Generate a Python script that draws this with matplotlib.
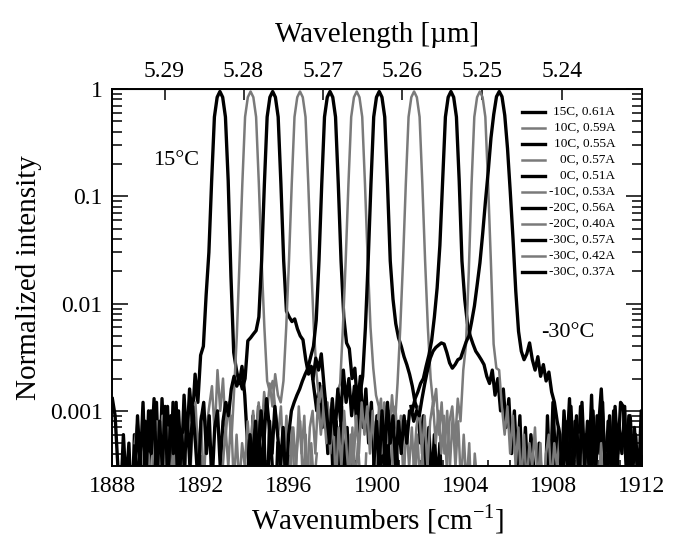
#!/usr/bin/env python3
# -*- coding: utf-8 -*-

import numpy as np
import matplotlib
matplotlib.use("Agg")
import matplotlib.pyplot as plt
from matplotlib.lines import Line2D
from matplotlib.ticker import FixedLocator, FuncFormatter, LogLocator, MultipleLocator, NullFormatter

plt.rcParams['font.family'] = ['Liberation Serif', 'DejaVu Serif']
plt.rcParams['mathtext.fontset'] = 'custom'
plt.rcParams['mathtext.rm'] = 'Liberation Serif'

# spectra sampled every 0.125 cm-1 from the given start wavenumber
STEP = 0.125

labels = ["15C, 0.61A", "10C, 0.59A", "10C, 0.55A", "0C, 0.57A", "0C, 0.51A",
          "-10C, 0.53A", "-20C, 0.56A", "-20C, 0.40A", "-30C, 0.57A",
          "-30C, 0.42A", "-30C, 0.37A"]
colors = ["black", "gray", "black", "gray", "black", "gray",
          "black", "gray", "black", "gray", "black"]
starts = [1887.995, 1889.01, 1889.01, 1893.0, 1894.11, 1896.07,
          1897.09, 1898.67, 1899.84, 1901.65, 1901.53]

int_15C_061 = [0.0013, 0.0009, 0.0003, 0.00015, 0.0006, 0.0002, 0.0005, 0.0001, 0.0006, 0.0002,
               0.0004, 0.0001, 0.0008, 0.0002, 0.0010, 0.0003, 0.0012, 0.0002, 0.0013, 0.0004,
               0.0011, 0.0002, 0.0012, 0.0002, 0.0010, 0.0003, 0.0014, 0.0005, 0.0016, 0.0008,
               0.0022, 0.0012, 0.0033, 0.0040, 0.012, 0.03, 0.14, 0.55, 0.84, 0.95,
               0.84, 0.55, 0.14, 0.018, 0.0035, 0.0024, 0.0018, 0.0026, 0.0014, 0.0005,
               0.0002, 0.0009, 0.0003, 0.0011, 0.0002, 0.0006, 0.0001, 0.0008, 0.0003, 0.0001,
               0.0005]
int_10C_059 = [0.0005, 0.0008, 0.0004, 0.0002, 0.0001, 0.0004, 0.0002, 0.0006, 0.0008, 0.0003,
               0.0009, 0.0002, 0.0007, 0.0002, 0.0005, 0.0001, 0.0004, 0.0002, 0.0006, 0.0002,
               0.0002, 0.0008, 0.0012, 0.0004, 0.0009, 0.0002, 0.0007, 0.0011, 0.0017, 0.0006,
               0.0024, 0.0010, 0.0020, 0.0006, 0.0012, 0.0005, 0.0015, 0.005, 0.025, 0.13,
               0.55, 0.84, 0.95, 0.84, 0.55, 0.13, 0.025, 0.006, 0.0019, 0.0015,
               0.0019, 0.0010, 0.0006, 0.0011, 0.0003, 0.0009, 0.0002, 0.0007, 0.0002, 0.0005,
               0.0008, 0.0002, 0.0006, 0.0001, 0.0005, 0.0002, 0.0004]
int_10C_055 = [0.0002, 0.0009, 0.0003, 0.0012, 0.0002, 0.0010, 0.0004, 0.0013, 0.0002, 0.0008,
               0.0003, 0.0011, 0.0002, 0.0009, 0.0004, 0.0012,
               0.0002, 0.0006, 0.0003, 0.0009, 0.0003, 0.0011, 0.0005, 0.0002, 0.0008, 0.0012,
               0.0004, 0.0009, 0.0002, 0.0007, 0.0010, 0.0003, 0.0008, 0.0012, 0.0009, 0.0016,
               0.0021, 0.0017, 0.0020, 0.0016, 0.0020, 0.0045, 0.0048, 0.0052, 0.0056, 0.0075,
               0.025, 0.13, 0.55, 0.84, 0.95, 0.84, 0.55, 0.13, 0.025, 0.0085,
               0.0075, 0.0068, 0.0072, 0.0058, 0.0050, 0.0046, 0.0030, 0.0022, 0.0026, 0.0016,
               0.0010, 0.0018, 0.0007, 0.0013, 0.0004, 0.0010, 0.0002, 0.0008, 0.0003, 0.0011,
               0.0002, 0.0007, 0.0002, 0.0005, 0.0002]
int_0C_057 = [0.0003, 0.0007, 0.0003, 0.0009, 0.0002, 0.0006, 0.0002, 0.0005, 0.0003, 0.0008,
              0.0004, 0.0010, 0.0005, 0.0012, 0.0006, 0.0015, 0.0009, 0.0018, 0.0011, 0.0022,
              0.0014, 0.0012, 0.0019, 0.006, 0.025, 0.13, 0.55, 0.84, 0.95, 0.84,
              0.55, 0.13, 0.025, 0.006, 0.0022, 0.0012, 0.0017, 0.0007, 0.0012, 0.0004,
              0.0009, 0.0002, 0.0007, 0.0003, 0.0010, 0.0004, 0.0002, 0.0007, 0.0002, 0.0005,
              0.0002, 0.0001, 0.0004]
int_0C_051 = [0.0002, 0.0006, 0.0003, 0.0008, 0.0003, 0.0010, 0.0005, 0.0013, 0.0007, 0.0004,
              0.0011, 0.0006, 0.0003, 0.0007, 0.0002, 0.0006, 0.0010, 0.0012, 0.0014, 0.0016,
              0.0019, 0.0022, 0.0025, 0.0032, 0.0040, 0.0070, 0.025, 0.13, 0.55, 0.84,
              0.95, 0.84, 0.55, 0.13, 0.025, 0.0075, 0.0043, 0.0038, 0.0020, 0.0025,
              0.0011, 0.0021, 0.0007, 0.0016, 0.0005, 0.0012, 0.0003, 0.0009, 0.0002, 0.0007,
              0.0002, 0.0006, 0.0002, 0.0001, 0.0005, 0.0002, 0.0001]
int_m10C_053 = [0.0003, 0.0007, 0.0003, 0.0011, 0.0004, 0.0009, 0.0002, 0.0007, 0.0010, 0.0004,
                0.0013, 0.0006, 0.0011, 0.0005, 0.0009, 0.0012, 0.0007, 0.0015, 0.0018, 0.006,
                0.025, 0.13, 0.55, 0.84, 0.95, 0.84, 0.55, 0.13, 0.025, 0.006,
                0.0025, 0.0014, 0.0011, 0.0004, 0.0012, 0.0005, 0.0010, 0.0003, 0.0011, 0.0005,
                0.0009, 0.0002, 0.0008, 0.0003, 0.0007, 0.0002, 0.0006, 0.0002, 0.0005, 0.0001,
                0.0004, 0.0002, 0.0001]
int_m20C_056 = [0.0020, 0.0031, 0.0024, 0.0034, 0.0017, 0.0009, 0.0005, 0.0013, 0.0006, 0.0016,
                0.0008, 0.0024, 0.0012, 0.0020, 0.0009, 0.0017, 0.0006, 0.0014, 0.0021, 0.006,
                0.025, 0.13, 0.55, 0.84, 0.95, 0.84, 0.55, 0.13, 0.025, 0.011,
                0.0065, 0.0048, 0.0040, 0.0032, 0.0027, 0.0022, 0.0017, 0.0012, 0.0010, 0.0005,
                0.0009, 0.0003, 0.0007, 0.0002, 0.0006, 0.0002, 0.0005, 0.0001, 0.0002]
int_m20C_040 = [0.0002, 0.0006, 0.0003, 0.0009, 0.0004, 0.0012, 0.0006, 0.0011, 0.0004, 0.0010,
                0.0003, 0.0009, 0.0013, 0.0005, 0.0011, 0.0006, 0.0014, 0.0007, 0.0018, 0.006,
                0.025, 0.13, 0.55, 0.84, 0.95, 0.84, 0.55, 0.13, 0.025, 0.006,
                0.0020, 0.0011, 0.0016, 0.0006, 0.0012, 0.0004, 0.0010, 0.0003, 0.0009, 0.0003,
                0.0008, 0.0002, 0.0006, 0.0002, 0.0005, 0.0001, 0.0004, 0.0002, 0.0001]
int_m30C_057 = [0.0003, 0.0008, 0.0003, 0.0010, 0.0004, 0.0012, 0.0005, 0.0009, 0.0003, 0.0008,
                0.0004, 0.0009, 0.0005, 0.0010, 0.0010, 0.0013, 0.0015, 0.0018, 0.0020, 0.0026,
                0.0033, 0.0045, 0.0075, 0.014, 0.035, 0.14, 0.55, 0.84, 0.95, 0.84,
                0.55, 0.14, 0.025, 0.011, 0.0065, 0.0050, 0.0042, 0.0036, 0.0033, 0.0030,
                0.0027, 0.0021, 0.0018, 0.0024, 0.0014, 0.0020, 0.0010, 0.0016, 0.0007, 0.0013,
                0.0004, 0.0010, 0.0003, 0.0009, 0.0002, 0.0007, 0.0002, 0.0006, 0.0003, 0.0001,
                0.0005, 0.0002, 0.0001, 0.0009, 0.0002, 0.0012, 0.0003, 0.0007, 0.0002, 0.0010,
                0.0004, 0.0013, 0.0002, 0.0008, 0.0003, 0.0011, 0.0002, 0.0006, 0.0003, 0.0014,
                0.0002, 0.0009, 0.0004, 0.0012, 0.0002, 0.0008, 0.0003, 0.0010, 0.0002, 0.0007,
                0.0004, 0.0011, 0.0002, 0.0009, 0.0003, 0.0006, 0.0002, 0.0010, 0.0003]
int_m30C_042 = [0.0003, 0.0007, 0.0011, 0.0004, 0.0009, 0.0003, 0.0008, 0.0012, 0.0005, 0.0010,
                0.0004, 0.0009, 0.0003, 0.0008, 0.0011, 0.0005, 0.0013, 0.0008, 0.0024, 0.0042,
                0.02, 0.13, 0.55, 0.84, 0.95, 0.84, 0.55, 0.13, 0.025, 0.0042,
                0.0025, 0.0024, 0.0011, 0.0006, 0.0011, 0.0004, 0.0009, 0.0003, 0.0007, 0.0002,
                0.0006, 0.0002, 0.0005, 0.0003, 0.0007, 0.0002, 0.0005, 0.0001, 0.0004, 0.0006,
                0.0002, 0.0005, 0.0003, 0.0006, 0.0002, 0.0005, 0.0003, 0.0007, 0.0004, 0.0002,
                0.0006, 0.0003, 0.0005, 0.0002, 0.0004, 0.0001, 0.0004, 0.0002, 0.0005, 0.0001,
                0.0004, 0.0002, 0.0001]
int_m30C_037 = [0.0011, 0.0008, 0.0010, 0.0009, 0.0013, 0.0018, 0.0024, 0.0031, 0.0036, 0.0039,
                0.0041, 0.0043, 0.0042, 0.0035, 0.0028, 0.0025, 0.0027, 0.0030, 0.0031, 0.0037,
                0.0044, 0.0050, 0.0068, 0.0095, 0.015, 0.024, 0.045, 0.09, 0.17, 0.35,
                0.58, 0.85, 0.95, 0.85, 0.57, 0.28, 0.11, 0.04, 0.013, 0.0055,
                0.0036, 0.0030, 0.0034, 0.0043, 0.0030, 0.0024, 0.0032, 0.0021, 0.0027, 0.0019,
                0.0023, 0.0015, 0.0012, 0.0008, 0.0006, 0.0002, 0.0008, 0.0002, 0.0011, 0.0003,
                0.0009, 0.0002, 0.0012, 0.0003, 0.0008, 0.0002, 0.0010, 0.0003, 0.0007, 0.0016,
                0.0005, 0.0002, 0.0009, 0.0003, 0.0011, 0.0004, 0.0012, 0.0011, 0.0003, 0.0009,
                0.0002, 0.0007, 0.0003, 0.0002, 0.0005]

intensities = [int_15C_061, int_10C_059, int_10C_055, int_0C_057, int_0C_051,
               int_m10C_053, int_m20C_056, int_m20C_040, int_m30C_057,
               int_m30C_042, int_m30C_037]

wl_ticks = [5.29, 5.28, 5.27, 5.26, 5.25, 5.24]

BLACK_LW = 2.4
GRAY_LW = 1.8
GRAY = "#7a7a7a"

fig = plt.figure(figsize=(6.8, 5.4), dpi=100)
ax = fig.add_axes([0.1654, 0.137, 0.7787, 0.698])

for start, vals, col in zip(starts, intensities, colors):
    wn = start + STEP * np.arange(len(vals))
    if col == "black":
        ax.plot(wn, vals, color="black", lw=BLACK_LW)
    else:
        ax.plot(wn, vals, color=GRAY, lw=GRAY_LW)

ax.set_yscale("log")
ax.set_xlim(1888, 1912)
ax.set_ylim(3.06e-4, 1)

ax.xaxis.set_major_locator(MultipleLocator(4))
ax.xaxis.set_minor_locator(MultipleLocator(1))
ax.yaxis.set_major_locator(LogLocator(base=10))
ax.yaxis.set_minor_locator(LogLocator(base=10, subs=np.arange(2, 10)))
ax.yaxis.set_major_formatter(FuncFormatter(lambda v, p: "%g" % v))
ax.yaxis.set_minor_formatter(NullFormatter())

ax.tick_params(which="both", direction="in", width=1.1, labelsize=17)
ax.tick_params(axis="y", which="both", right=True)
ax.tick_params(axis="y", which="major", length=11.5, pad=7)
ax.tick_params(axis="y", which="minor", length=7)
ax.tick_params(axis="x", which="major", length=8, pad=7)
ax.tick_params(axis="x", which="minor", length=4)
for s in ax.spines.values():
    s.set_linewidth(1.4)

def inv(x):
    with np.errstate(divide="ignore"):
        return 1e4 / np.asarray(x, dtype=float)

top = ax.secondary_xaxis("top", functions=(inv, inv))
top.xaxis.set_major_locator(FixedLocator(wl_ticks))
top.xaxis.set_major_formatter(FuncFormatter(lambda v, p: "%.2f" % v))
top.tick_params(direction="in", length=8, width=1.1, labelsize=17, pad=5)
top.set_xlabel("Wavelength [µm]", fontsize=21, labelpad=14)

ax.set_xlabel(r"Wavenumbers [cm$^{\mathrm{-1}}$]", fontsize=21, labelpad=4)
ax.set_ylabel("Normalized intensity", fontsize=21, labelpad=6)

ax.text(1890.88, 0.217, "15°C", fontsize=16, ha="center", va="center")
ax.text(1908.65, 0.0054, "-30°C", fontsize=16, ha="center", va="center")

# legend drawn by hand so that the labels are right aligned like the original
for i, (lab, col) in enumerate(zip(labels, colors)):
    yy = 0.940 - i * 0.0424
    c = "black" if col == "black" else GRAY
    w = BLACK_LW if col == "black" else GRAY_LW
    ax.add_line(Line2D([0.773, 0.817], [yy, yy], transform=ax.transAxes, color=c, lw=w))
    ax.text(0.9495, yy, lab, transform=ax.transAxes, fontsize=9.5, ha="right", va="center")

plt.savefig("out.png", dpi=100)
plt.close()
